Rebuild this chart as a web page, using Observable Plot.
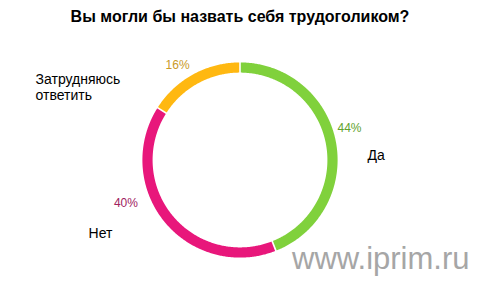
<!DOCTYPE html>
<html>
<head>
<meta charset="utf-8">
<script src="https://cdn.jsdelivr.net/npm/d3@7"></script>
<script src="https://cdn.jsdelivr.net/npm/@observablehq/plot@0.6"></script>
<style>
  html, body { margin: 0; padding: 0; background: #fff; }
  #wrap { position: relative; width: 480px; height: 288px; overflow: hidden; font-family: "Liberation Sans", Arial, sans-serif; }
  #title { position: absolute; left: 0; top: 8px; width: 480px; text-align: center; font-weight: bold; font-size: 16px; color: #000; }
  #chart { position: absolute; left: 0; top: 0; }
</style>
</head>
<body>
<div id="wrap">
  <div id="chart"></div>
  <div id="title">Вы могли бы назвать себя трудоголиком?</div>
</div>
<script>
// ---- data ----
const categories = ["Да", "Нет", "Затрудняюсь ответить"];
const values = [44, 40, 16];
const ringColors = ["#80d13c", "#e8177b", "#ffb811"];
const labelColors = ["#62a22e", "#a0225e", "#c99a27"];
const watermark = "www.iprim.ru";

// ---- layout (pixels) ----
const cx = 239.5, cy = 159.5, rMid = 92.5, ringW = 10.2;
const rIn = rMid - ringW / 2, rOut = rMid + ringW / 2;

const pie = d3.pie().sort(null).value(i => values[i]);
const slices = pie(d3.range(categories.length)).map(s => ({
  i: s.data, name: categories[s.data], value: values[s.data],
  a0: s.startAngle, a1: s.endAngle, mid: (s.startAngle + s.endAngle) / 2
}));
const px = (a, r) => cx + r * Math.sin(a);
const py = (a, r) => cy - r * Math.cos(a);

// arc geometry sampled along each slice
const arcPts = slices.flatMap(s => {
  const n = Math.max(2, Math.ceil((s.a1 - s.a0) / 0.01));
  return d3.range(n + 1).map(k => {
    const a = s.a0 + (s.a1 - s.a0) * k / n;
    return {name: s.name, i: s.i, x: px(a, rMid), y: py(a, rMid)};
  });
});

// label nudges (style)
const pctNudge = {"Да": [-1.5, -11], "Нет": [-27, -28.5], "Затрудняюсь ответить": [-8, 4]};
const nameNudge = {"Да": [-10, 21.5], "Нет": [-43.6, -16.5], "Затрудняюсь ответить": [-137, 49.5]};

const chart = Plot.plot({
  width: 480, height: 288, margin: 0,
  x: {domain: [0, 480], range: [0, 480], axis: null},
  y: {domain: [0, 288], range: [0, 288], axis: null},
  style: {fontFamily: "'Liberation Sans', Arial, sans-serif", background: "transparent"},
  marks: [
    Plot.line(arcPts, {x: "x", y: "y", z: "name", stroke: d => ringColors[d.i], strokeWidth: ringW, strokeLinecap: "butt", strokeLinejoin: "round"}),
    Plot.link(slices, {
      x1: d => px(d.a0, rIn - 2), y1: d => py(d.a0, rIn - 2),
      x2: d => px(d.a0, rOut + 2), y2: d => py(d.a0, rOut + 2),
      stroke: "#fff", strokeWidth: 1.6
    }),
    Plot.text(slices, {
      x: d => px(d.mid, 113) + pctNudge[d.name][0],
      y: d => py(d.mid, 113) + pctNudge[d.name][1],
      text: d => d.value + "%",
      fill: d => labelColors[d.i], fontSize: 12, textAnchor: "middle"
    }),
    Plot.text(slices, {
      x: d => px(d.mid, 140) + nameNudge[d.name][0],
      y: d => py(d.mid, 140) + nameNudge[d.name][1],
      text: d => d.name.replace(" ", "\n"),
      fill: "#000", fontSize: 14, textAnchor: "start", lineHeight: 1.15
    }),
    Plot.text([watermark], {
      x: 469, y: 259, text: d => d, fill: "#a6a6a6", fontSize: 31, textAnchor: "end"
    })
  ]
});
document.getElementById("chart").appendChild(chart);
</script>
</body>
</html>
